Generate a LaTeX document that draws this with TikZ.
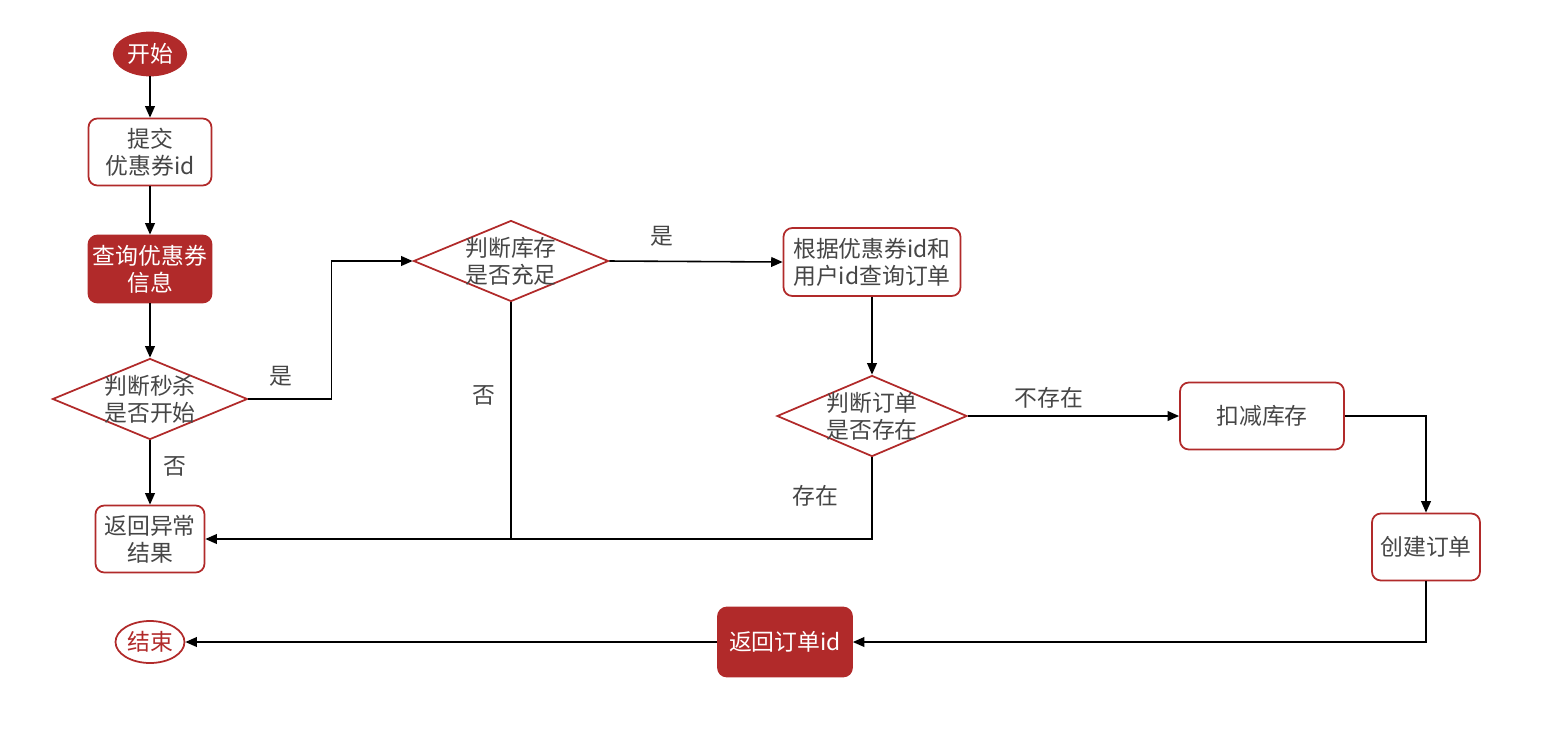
\documentclass[tikz,border=0pt]{standalone}
\usepackage{fontspec}
\usepackage{tikz}
\usetikzlibrary{shapes.geometric, arrows.meta, positioning, calc}
\setmainfont{Noto Sans CJK SC}
\definecolor{flowred}{RGB}{177, 42, 42}
\definecolor{flowtext}{RGB}{70, 70, 70}

\begin{document}
\begin{tikzpicture}[
    x=0.02cm, y=-0.02cm,
    font=\fontsize{13}{15.5}\selectfont, text=flowtext,
    terminal/.style={ellipse, draw=flowred, line width=1pt, inner sep=0pt,
        minimum width=1.45cm, minimum height=0.86cm},
    proc/.style={rectangle, rounded corners=5pt, draw=flowred, fill=white, line width=1pt,
        align=center, inner sep=2pt, minimum height=1.34cm},
    procfill/.style={proc, fill=flowred, text=white},
    decision/.style={diamond, draw=flowred, line width=1pt, inner sep=0pt,
        minimum width=3.9cm, minimum height=1.62cm,
        label={[align=center, text=flowtext]center:#1}},
    lbl/.style={text=flowtext},
    arr/.style={-{Triangle[length=6.5pt, width=5.5pt]}, line width=0.9pt, black},
    line/.style={line width=0.9pt, black}
]
\useasboundingbox (0,0) rectangle (1558,728);

% Left column
\node[terminal, fill=flowred, text=white] (start) at (150, 54) {开始};
\node[proc, minimum width=2.46cm] (submit) at (150, 152) {提交\\优惠券id};
\node[procfill, minimum width=2.46cm] (coupon) at (150, 269) {查询优惠券\\信息};
\node[decision={判断秒杀\\是否开始}] (dstart) at (150, 399) {};
\node[proc, minimum width=2.18cm] (error) at (150, 539) {返回异常\\结果};
\node[terminal, fill=white, text=flowred, minimum width=1.38cm, minimum height=0.84cm] (finish) at (150, 642) {结束};

% Middle and right
\node[decision={判断库存\\是否充足}] (dstock) at (511, 261) {};
\node[proc, minimum width=3.54cm, minimum height=1.36cm] (query) at (872, 262) {根据优惠券id和\\用户id查询订单};
\node[decision={判断订单\\是否存在}, minimum width=3.8cm] (dorder) at (872, 416) {};
\node[proc, minimum width=3.28cm] (deduct) at (1262, 416) {扣减库存};
\node[proc, minimum width=2.16cm] (create) at (1426, 547) {创建订单};
\node[procfill, minimum width=2.68cm, minimum height=1.38cm] (retid) at (785, 642) {返回订单id};

% Arrows
\draw[arr] (start) -- (submit);
\draw[arr] (submit) -- (coupon);
\draw[arr] (coupon) -- (dstart);
\draw[arr] (dstart) -- (error);
\draw[arr] (dstart.east) -- ++(83, 0) |- (dstock.west);
\draw[arr] (dstock.east) -- (query.west);
\draw[arr] (dstock.south) |- (error.east);
\draw[arr] (query) -- (dorder);
\draw[line] (dorder.south) |- (dstock.south |- error.east);
\draw[arr] (dorder.east) -- (deduct.west);
\draw[arr] (deduct.east) -| (create.north);
\draw[arr] (create.south) |- (retid.east);
\draw[arr] (retid) -- (finish);

% Labels
\node[lbl] (yes1) at (281, 376) {是};
\node[lbl] (no1) at (175, 466) {否};
\node[lbl] (yes2) at (662, 236) {是};
\node[lbl] (no2) at (484, 395) {否};
\node[lbl] (absent) at (1049, 398) {不存在};
\node[lbl] (present) at (815, 496) {存在};

\end{tikzpicture}
\end{document}
